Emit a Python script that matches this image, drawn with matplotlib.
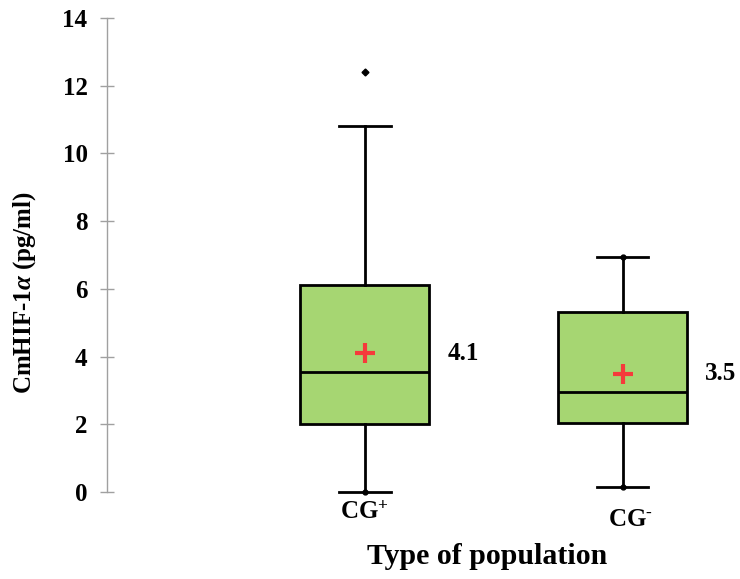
import matplotlib
matplotlib.use("Agg")
import matplotlib.pyplot as plt

plt.rcParams['font.family'] = ['Liberation Serif', 'DejaVu Serif']
plt.rcParams['font.weight'] = 'bold'
plt.rcParams['mathtext.fontset'] = 'custom'
plt.rcParams['mathtext.rm'] = 'Liberation Serif:bold'
plt.rcParams['mathtext.it'] = 'Liberation Serif:italic:bold'
plt.rcParams['mathtext.bf'] = 'Liberation Serif:bold'

# box statistics per population
groups = ['CG$^{+}$', r'CG$^{\text{-}}$']
q1 = [2.01, 2.04]
med = [3.55, 2.95]
q3 = [6.11, 5.32]
whis_lo = [0.0, 0.15]
whis_hi = [10.81, 6.94]
means = [4.1, 3.5]
outliers = [[12.4], []]
extremes = [[0.0], [0.15, 6.94]]

green = '#a6d672'
red = '#f53b3b'

fig = plt.figure(figsize=(7.4, 5.79), dpi=100)
ax = fig.add_axes([0.1446, 0.150, 0.836, 0.819])

stats = []
for i in range(len(groups)):
    stats.append(dict(med=med[i], q1=q1[i], q3=q3[i], whislo=whis_lo[i],
                      whishi=whis_hi[i], mean=means[i], fliers=outliers[i]))

pos = [1, 2]
bp = ax.bxp(stats, positions=pos, widths=0.5, showmeans=True, patch_artist=True,
            boxprops=dict(facecolor=green, edgecolor='black', linewidth=2.0),
            medianprops=dict(color='black', linewidth=2.0),
            whiskerprops=dict(color='black', linewidth=2.0),
            capprops=dict(color='black', linewidth=2.0),
            capwidths=0.2,
            meanprops=dict(marker='+', markeredgecolor=red, markersize=14,
                           markeredgewidth=3),
            flierprops=dict(marker='D', markerfacecolor='black',
                            markeredgecolor='black', markersize=3.5))
# caps sitting on y=0 should not be cut in half
for key in bp:
    for art in bp[key]:
        art.set_clip_on(False)

for p, pts in zip(pos, extremes):
    ax.plot([p] * len(pts), pts, 'o', color='black', markersize=3.5,
            clip_on=False)

for p, m in zip(pos, means):
    ax.text(p + 0.32, m, f'{m:.1f}', fontsize=18, fontweight='bold',
            va='center', ha='left')

ax.set_xlim(0, 2.4)
ax.set_ylim(0, 14)
ax.set_yticks(range(0, 15, 2))
ax.tick_params(axis='y', direction='inout', length=10, width=1, color='#a0a0a0',
               labelsize=18, pad=9)
for lab in ax.get_yticklabels():
    lab.set_fontweight('bold')
ax.set_xticks([])

for s in ['top', 'right', 'bottom']:
    ax.spines[s].set_visible(False)
ax.spines['left'].set_color('#a0a0a0')
ax.spines['left'].set_linewidth(1)

# category labels under the boxes
tr = ax.get_xaxis_transform()
ax.text(pos[0], -0.043, groups[0], transform=tr, ha='center', va='center',
        fontsize=18)
ax.text(pos[1] + 0.03, -0.057, groups[1], transform=tr, ha='center',
        va='center', fontsize=18)

ax.set_ylabel(r'CmHIF-1$\mathit{\alpha}$ (pg/ml)', fontsize=18,
              fontweight='bold')
ax.yaxis.set_label_coords(-0.111, 0.42)
fig.text(0.658, 0.038, 'Type of population', ha='center', va='center',
         fontsize=21.5, fontweight='bold')

fig.savefig('out.png', dpi=100)
